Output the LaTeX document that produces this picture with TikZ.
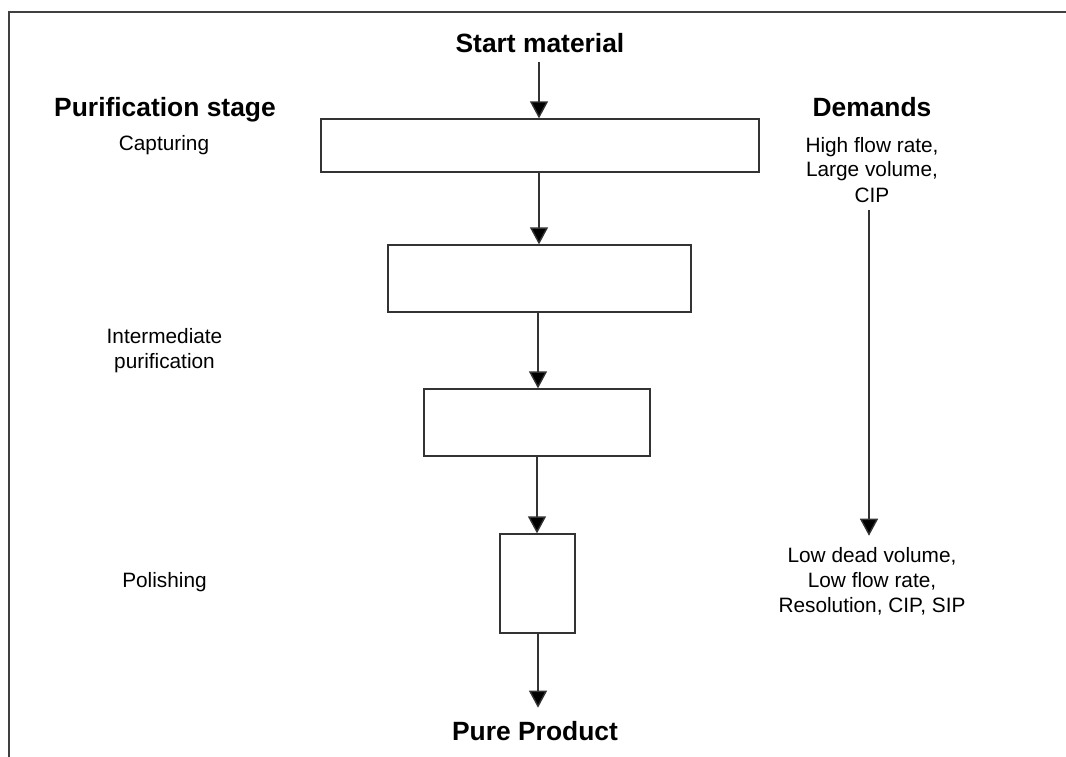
\documentclass[tikz,border=0pt]{standalone}
\usepackage{fontspec}
\setmainfont{Liberation Sans}
\usetikzlibrary{arrows.meta}
\begin{document}
\begin{tikzpicture}[x=1pt,y=-1pt,
  frameline/.style={draw=black!75, line width=1.3pt},
  box/.style={draw=black!80, line width=1.3pt, inner sep=0pt, fill=white},
  flow/.style={draw=black!80, line width=1.4pt, -{Triangle[width=18pt,length=17pt,fill=black]}},
  title/.style={font=\fontsize{26.4}{31}\selectfont\bfseries, inner sep=0pt, anchor=base},
  lbl/.style={font=\fontsize{20.8}{25}\selectfont, inner sep=0pt, align=center, anchor=base},
]
\useasboundingbox (0,0) rectangle (1066,757);
\draw[frameline] (9,757) -- (9,12) -- (1066,12);

% headings
\node[title] (start) at (540,53) {Start material};
\node[title] (stage) at (165,117) {Purification stage};
\node[title] (demands) at (872,117) {Demands};
\node[title] (pure) at (535,740) {Pure Product};

% stage labels (base = baseline of last line)
\node[lbl] (capt) at (164,151) {Capturing};
\node[lbl] (inter) at (164.5,368) {Intermediate\\purification};
\node[lbl] (polish) at (164.5,587) {Polishing};

% demands
\node[lbl] (dem1) at (872,202) {High flow rate,\\Large volume,\\CIP};
\node[lbl] (dem2) at (872,612) {Low dead volume,\\Low flow rate,\\Resolution, CIP, SIP};

% columns
\node[box, minimum width=438pt, minimum height=53pt] (b1) at (540,145.5) {};
\node[box, minimum width=303pt, minimum height=67pt] (b2) at (539.5,278.5) {};
\node[box, minimum width=226pt, minimum height=67pt] (b3) at (537,422.5) {};
\node[box, minimum width=75pt, minimum height=99pt] (b4) at (537.5,583.5) {};

% connectors
\draw[flow, shorten <=9pt] ([xshift=-1pt]start.south) -- ([xshift=-1pt]start.south |- b1.north);
\draw[flow] ([xshift=-1pt]b1.south) -- ([xshift=-1pt]b1.south |- b2.north);
\draw[flow] ([xshift=-1.5pt]b2.south) -- ([xshift=-1.5pt]b2.south |- b3.north);
\draw[flow] (b3.south) -- (b3.south |- b4.north);
\draw[flow, shorten >=13pt] ([xshift=0.5pt]b4.south) -- ([xshift=0.5pt]b4.south |- pure.north);
\draw[flow, shorten <=8pt, shorten >=11pt] ([xshift=-3pt]dem1.south) -- ([xshift=-3pt]dem1.south |- dem2.north);
\end{tikzpicture}
\end{document}
